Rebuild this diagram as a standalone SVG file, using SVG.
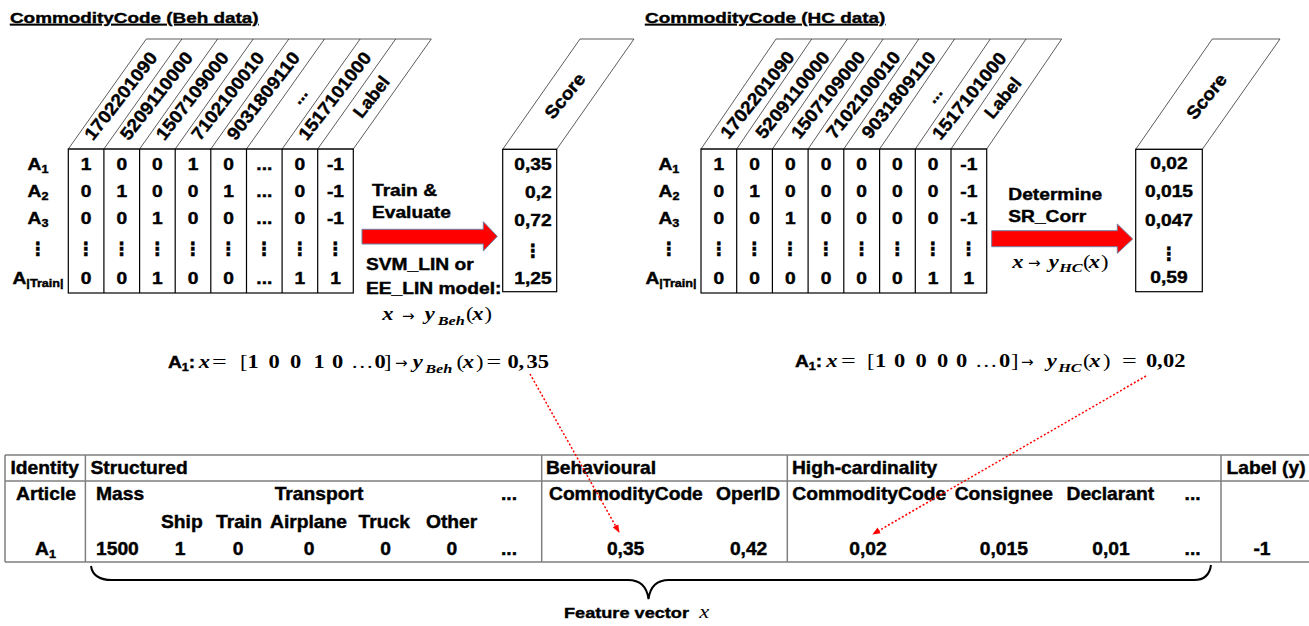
<svg xmlns="http://www.w3.org/2000/svg" width="1309" height="626" viewBox="0 0 1309 626">
<style>
.b{font-family:"Liberation Sans",Arial,sans-serif;font-weight:700;fill:#000;stroke:#000;stroke-width:0.4}
.k{font-size:16px}
.sl{transform-box:fill-box;transform-origin:0 50%;transform:scaleX(1.2)}
.sc{transform-box:fill-box;transform-origin:50% 50%;transform:scaleX(1.2)}
.sr{transform-box:fill-box;transform-origin:100% 50%;transform:scaleX(1.2)}
.c{text-anchor:middle}
.r{text-anchor:end}
.tt{font-size:15.5px;text-decoration:underline;transform-box:fill-box;transform-origin:0 50%;transform:scaleX(1.22)}
.hd{font-size:18px;text-anchor:middle;dominant-baseline:central}
.vd{font-family:"DejaVu Sans",sans-serif;font-weight:700;font-size:18px;text-anchor:middle;fill:#000;stroke:#000;stroke-width:0.4}
.bt{font-size:17.5px}
.bl{transform-box:fill-box;transform-origin:0 50%;transform:scaleX(1.1)}
.bc{transform-box:fill-box;transform-origin:50% 50%;transform:scaleX(1.1);text-anchor:middle}
.m{font-family:"Liberation Serif","Times New Roman",serif;fill:#000;transform-box:fill-box;transform-origin:0 50%;transform:scaleX(1.25)}
.mv{font-style:italic;font-weight:700;font-size:18px}
.mn{font-weight:700;font-size:18px}
.mr{font-size:18px}
.mu{font-style:italic;font-weight:700;font-size:13px}
.ma{font-family:"DejaVu Sans",sans-serif;font-size:15px;fill:#000}
.me{font-family:"Liberation Serif","Times New Roman",serif;font-size:18px;fill:#000;transform-box:fill-box;transform-origin:0 50%;transform:scaleX(1.45)}
.grid{fill:none;stroke:#000;stroke-width:1.2}
.hl{fill:none;stroke:#333;stroke-width:0.8}
.blk{fill:#ff0000;stroke:#6f7f9f;stroke-width:1}
.tab{fill:none;stroke:#7f7f7f;stroke-width:1.5}
.red{fill:none;stroke:#ff0000;stroke-width:1.5;stroke-dasharray:2 2}
</style>
<defs>
<marker id="rh" viewBox="0 0 10 10" refX="9" refY="5" markerWidth="8" markerHeight="8" markerUnits="userSpaceOnUse" orient="auto"><path d="M0,1 L10,5 L0,9 z" fill="#ff0000"/></marker>
</defs>

<g id="beh-matrix">
<text class="b tt" x="10" y="23">CommodityCode (Beh data)</text>
<polygon class="hl" points="68.3,149 353.3,149 431.3,39 146.3,39"/>
<path class="hl" d="M103.9,149L181.9,39M139.6,149L217.6,39M175.2,149L253.2,39M210.8,149L288.8,39M246.5,149L324.5,39M282.1,149L360.1,39M317.7,149L395.7,39"/>
<text class="b hd" transform="translate(121,96) rotate(-52)" textLength="106" lengthAdjust="spacingAndGlyphs">1702201090</text>
<text class="b hd" transform="translate(156.6,96) rotate(-52)" textLength="106" lengthAdjust="spacingAndGlyphs">5209110000</text>
<text class="b hd" transform="translate(192.3,96) rotate(-52)" textLength="106" lengthAdjust="spacingAndGlyphs">1507109000</text>
<text class="b hd" transform="translate(227.9,96) rotate(-52)" textLength="106" lengthAdjust="spacingAndGlyphs">7102100010</text>
<text class="b hd" transform="translate(263.5,96) rotate(-52)" textLength="106" lengthAdjust="spacingAndGlyphs">9031809110</text>
<text class="b hd" transform="translate(299.2,96) rotate(-52)">...</text>
<text class="b hd" transform="translate(334.8,96) rotate(-52)" textLength="106" lengthAdjust="spacingAndGlyphs">1517101000</text>
<text class="b hd" transform="translate(371.5,97) rotate(-52)" textLength="47" lengthAdjust="spacingAndGlyphs">Label</text>
<rect class="grid" x="68.3" y="149" width="285" height="144"/>
<path class="grid" d="M103.9,149V293M139.6,149V293M175.2,149V293M210.8,149V293M246.5,149V293M282.1,149V293M317.7,149V293"/>
<g class="b k">
<text class="sc c" x="38" y="170">A<tspan font-size="10.5" dy="3">1</tspan></text>
<text class="sc c" x="38" y="197">A<tspan font-size="10.5" dy="3">2</tspan></text>
<text class="sc c" x="38" y="224">A<tspan font-size="10.5" dy="3">3</tspan></text>
<text class="sc c" x="38" y="284">A<tspan font-size="10.5" dy="3">|Train|</tspan></text>
<text class="sc c" x="86.1" y="170">1</text><text class="sc c" x="121.8" y="170">0</text><text class="sc c" x="157.4" y="170">0</text><text class="sc c" x="193" y="170">1</text><text class="sc c" x="228.6" y="170">0</text><text class="sc c" x="264.3" y="170">...</text><text class="sc c" x="299.9" y="170">0</text><text class="sc c" x="335.5" y="170">-1</text>
<text class="sc c" x="86.1" y="197">0</text><text class="sc c" x="121.8" y="197">1</text><text class="sc c" x="157.4" y="197">0</text><text class="sc c" x="193" y="197">0</text><text class="sc c" x="228.6" y="197">1</text><text class="sc c" x="264.3" y="197">...</text><text class="sc c" x="299.9" y="197">0</text><text class="sc c" x="335.5" y="197">-1</text>
<text class="sc c" x="86.1" y="224">0</text><text class="sc c" x="121.8" y="224">0</text><text class="sc c" x="157.4" y="224">1</text><text class="sc c" x="193" y="224">0</text><text class="sc c" x="228.6" y="224">0</text><text class="sc c" x="264.3" y="224">...</text><text class="sc c" x="299.9" y="224">0</text><text class="sc c" x="335.5" y="224">-1</text>
<text class="sc c" x="86.1" y="284">0</text><text class="sc c" x="121.8" y="284">0</text><text class="sc c" x="157.4" y="284">1</text><text class="sc c" x="193" y="284">0</text><text class="sc c" x="228.6" y="284">0</text><text class="sc c" x="264.3" y="284">...</text><text class="sc c" x="299.9" y="284">1</text><text class="sc c" x="335.5" y="284">1</text>
</g>
<g class="vd">
<text x="38" y="255">⋮</text><text x="86.1" y="255">⋮</text><text x="121.8" y="255">⋮</text><text x="157.4" y="255">⋮</text><text x="193" y="255">⋮</text><text x="228.6" y="255">⋮</text><text x="264.3" y="255">⋮</text><text x="299.9" y="255">⋮</text><text x="335.5" y="255">⋮</text>
</g>
</g>

<g id="beh-score">
<polygon class="hl" points="502.7,149.3 556.7,149.3 634,39 580,39"/>
<rect class="grid" x="502.7" y="149.3" width="54" height="142.4"/>
<text class="b hd" font-size="18" transform="translate(565,96) rotate(-51)" textLength="53" lengthAdjust="spacingAndGlyphs">Score</text>
<g class="b k">
<text class="sr r" x="551.7" y="170">0,35</text>
<text class="sr r" x="551.7" y="198">0,2</text>
<text class="sr r" x="551.7" y="226.5">0,72</text>
<text class="sr r" x="551.7" y="284">1,25</text>
</g>
<text class="vd" x="533" y="257">⋮</text>
</g>

<g id="train-arrow">
<polygon class="blk" points="362,229.3 483.3,229.3 483.3,221.7 497.3,236.3 483.3,251 483.3,244 362,244"/>
<g class="b k">
<text class="sl" x="372" y="196">Train &amp;</text>
<text class="sl" x="372" y="218.5">Evaluate</text>
<text class="sl" x="366" y="270.5">SVM_LIN or</text>
<text class="sl" x="366" y="294">EE_LIN model:</text>
</g>
<text class="m mv" x="382" y="320.5">x</text>
<text class="ma" x="402" y="320.5">→</text>
<text class="m mv" x="424" y="320.5">y</text>
<text class="m mu" x="437.5" y="325">Beh</text>
<text class="m mr" x="466" y="320.5">(</text>
<text class="m mv" x="472" y="320.5">x</text>
<text class="m mr" x="484.5" y="320.5">)</text>
</g>

<g id="hc-matrix">
<text class="b tt" x="645" y="23">CommodityCode (HC data)</text>
<polygon class="hl" points="701,149 986.7,149 1061.7,39 776,39"/>
<path class="hl" d="M736.7,149L811.7,39M772.4,149L847.4,39M808.1,149L883.1,39M843.8,149L918.8,39M879.6,149L954.6,39M915.3,149L990.3,39M951,149L1026,39"/>
<text class="b hd" transform="translate(757.5,95) rotate(-51)" textLength="106" lengthAdjust="spacingAndGlyphs">1702201090</text>
<text class="b hd" transform="translate(792.8,95) rotate(-51)" textLength="106" lengthAdjust="spacingAndGlyphs">5209110000</text>
<text class="b hd" transform="translate(828.1,95) rotate(-51)" textLength="106" lengthAdjust="spacingAndGlyphs">1507109000</text>
<text class="b hd" transform="translate(863.4,95) rotate(-51)" textLength="106" lengthAdjust="spacingAndGlyphs">7102100010</text>
<text class="b hd" transform="translate(898.7,95) rotate(-51)" textLength="106" lengthAdjust="spacingAndGlyphs">9031809110</text>
<text class="b hd" transform="translate(934,95) rotate(-51)">...</text>
<text class="b hd" transform="translate(969.3,96) rotate(-51)" textLength="106" lengthAdjust="spacingAndGlyphs">1517101000</text>
<text class="b hd" transform="translate(1003,98) rotate(-51)" textLength="47" lengthAdjust="spacingAndGlyphs">Label</text>
<rect class="grid" x="701" y="149" width="285.7" height="144"/>
<path class="grid" d="M736.7,149V293M772.4,149V293M808.1,149V293M843.8,149V293M879.6,149V293M915.3,149V293M951,149V293"/>
<g class="b k">
<text class="sc c" x="669" y="170">A<tspan font-size="10.5" dy="3">1</tspan></text>
<text class="sc c" x="669" y="197">A<tspan font-size="10.5" dy="3">2</tspan></text>
<text class="sc c" x="669" y="224">A<tspan font-size="10.5" dy="3">3</tspan></text>
<text class="sc c" x="671" y="284">A<tspan font-size="10.5" dy="3">|Train|</tspan></text>
<text class="sc c" x="718.9" y="170">1</text><text class="sc c" x="754.6" y="170">0</text><text class="sc c" x="790.3" y="170">0</text><text class="sc c" x="826" y="170">0</text><text class="sc c" x="861.7" y="170">0</text><text class="sc c" x="897.4" y="170">0</text><text class="sc c" x="933.1" y="170">0</text><text class="sc c" x="968.8" y="170">-1</text>
<text class="sc c" x="718.9" y="197">0</text><text class="sc c" x="754.6" y="197">1</text><text class="sc c" x="790.3" y="197">0</text><text class="sc c" x="826" y="197">0</text><text class="sc c" x="861.7" y="197">0</text><text class="sc c" x="897.4" y="197">0</text><text class="sc c" x="933.1" y="197">0</text><text class="sc c" x="968.8" y="197">-1</text>
<text class="sc c" x="718.9" y="224">0</text><text class="sc c" x="754.6" y="224">0</text><text class="sc c" x="790.3" y="224">1</text><text class="sc c" x="826" y="224">0</text><text class="sc c" x="861.7" y="224">0</text><text class="sc c" x="897.4" y="224">0</text><text class="sc c" x="933.1" y="224">0</text><text class="sc c" x="968.8" y="224">-1</text>
<text class="sc c" x="718.9" y="284">0</text><text class="sc c" x="754.6" y="284">0</text><text class="sc c" x="790.3" y="284">0</text><text class="sc c" x="826" y="284">0</text><text class="sc c" x="861.7" y="284">0</text><text class="sc c" x="897.4" y="284">0</text><text class="sc c" x="933.1" y="284">1</text><text class="sc c" x="968.8" y="284">1</text>
</g>
<g class="vd">
<text x="669" y="255">⋮</text><text x="718.9" y="255">⋮</text><text x="754.6" y="255">⋮</text><text x="790.3" y="255">⋮</text><text x="826" y="255">⋮</text><text x="861.7" y="255">⋮</text><text x="897.4" y="255">⋮</text><text x="933.1" y="255">⋮</text><text x="968.8" y="255">⋮</text>
</g>
</g>

<g id="hc-score">
<polygon class="hl" points="1135.7,149.3 1202.3,149.3 1280,39 1212.3,39"/>
<rect class="grid" x="1135.7" y="149.3" width="66.6" height="142.4"/>
<text class="b hd" font-size="18" transform="translate(1206.7,96.5) rotate(-51)" textLength="53" lengthAdjust="spacingAndGlyphs">Score</text>
<g class="b k">
<text class="sc c" x="1169" y="169">0,02</text>
<text class="sc c" x="1169" y="197.3">0,015</text>
<text class="sc c" x="1169" y="225.7">0,047</text>
<text class="sc c" x="1169" y="283.3">0,59</text>
</g>
<text class="vd" x="1169" y="260">⋮</text>
</g>

<g id="sr-arrow">
<polygon class="blk" points="991.7,230.7 1117.3,230.7 1117.3,224 1132.7,239 1117.3,253.3 1117.3,246.7 991.7,246.7"/>
<g class="b k">
<text class="sl" x="1008.3" y="200">Determine</text>
<text class="sl" x="1008.3" y="222.3">SR_Corr</text>
</g>
<text class="m mv" x="1012" y="268">x</text>
<text class="ma" x="1028" y="268">→</text>
<text class="m mv" x="1048" y="268">y</text>
<text class="m mu" x="1059" y="272.5">HC</text>
<text class="m mr" x="1083" y="268">(</text>
<text class="m mv" x="1088.5" y="268">x</text>
<text class="m mr" x="1101" y="268">)</text>
</g>

<g id="formula-beh">
<text class="b sl" x="168" y="368" font-size="16">A<tspan font-size="10.5" dy="3">1</tspan><tspan dy="-3">:</tspan></text>
<text class="m mv" x="198.5" y="368">x</text>
<text class="me" x="212" y="368">=</text>
<text class="m mr" x="240" y="368">[</text>
<text class="m mn" x="247.5" y="368">1</text>
<text class="m mn" x="268.5" y="368">0</text>
<text class="m mn" x="290" y="368">0</text>
<text class="m mn" x="313.5" y="368">1</text>
<text class="m mn" x="332" y="368">0</text>
<text class="m mr" x="351" y="368" font-size="12">…</text>
<text class="m mn" x="374.5" y="368">0</text>
<text class="m mr" x="384" y="368">]</text>
<text class="ma" x="395" y="368">→</text>
<text class="m mv" x="412" y="368">y</text>
<text class="m mu" x="425" y="373.5">Beh</text>
<text class="m mr" x="456.5" y="368">(</text>
<text class="m mv" x="462.5" y="368">x</text>
<text class="m mr" x="476" y="368">)</text>
<text class="me" x="486.5" y="368">=</text>
<text class="m mn" x="507.5" y="368">0</text>
<text class="m mn" x="518.5" y="368">,</text>
<text class="m mn" x="526.5" y="368">35</text>
</g>

<g id="formula-hc">
<text class="b sl" x="795" y="367" font-size="16">A<tspan font-size="10.5" dy="3">1</tspan><tspan dy="-3">:</tspan></text>
<text class="m mv" x="826" y="367">x</text>
<text class="me" x="841" y="367">=</text>
<text class="m mr" x="867" y="367">[</text>
<text class="m mn" x="875" y="367">1</text>
<text class="m mn" x="894" y="367">0</text>
<text class="m mn" x="915.5" y="367">0</text>
<text class="m mn" x="937" y="367">0</text>
<text class="m mn" x="956" y="367">0</text>
<text class="m mr" x="975" y="367" font-size="12">…</text>
<text class="m mn" x="999" y="367">0</text>
<text class="m mr" x="1011" y="367">]</text>
<text class="ma" x="1021" y="367">→</text>
<text class="m mv" x="1046" y="367">y</text>
<text class="m mu" x="1058" y="372.5">HC</text>
<text class="m mr" x="1083" y="367">(</text>
<text class="m mv" x="1089" y="367">x</text>
<text class="m mr" x="1103" y="367">)</text>
<text class="me" x="1122" y="367">=</text>
<text class="m mn" x="1146" y="367">0</text>
<text class="m mn" x="1157" y="367">,</text>
<text class="m mn" x="1163" y="367">02</text>
</g>

<g id="feature-table">
<path class="tab" d="M5,455H1309M5,481H1309M5,562H1309M5,455V562M85.4,455V562M541.7,455V562M787.3,455V562M1221,455V562"/>
<g class="b bt">
<text class="bl" x="10.5" y="474">Identity</text>
<text class="bl" x="90.5" y="474">Structured</text>
<text class="bl" x="546" y="474">Behavioural</text>
<text class="bl" x="792" y="474">High-cardinality</text>
<text class="bl" x="1226.5" y="474">Label (y)</text>
<text class="bc" x="46" y="500">Article</text>
<text class="bl" x="96" y="500">Mass</text>
<text class="bc" x="319" y="500">Transport</text>
<text class="bc" x="509" y="500">...</text>
<text class="bl" x="549" y="500">CommodityCode</text>
<text class="bl" x="716" y="500">OperID</text>
<text class="bl" x="792.3" y="500">CommodityCode</text>
<text class="bl" x="954.7" y="500">Consignee</text>
<text class="bl" x="1066.5" y="500">Declarant</text>
<text class="bc" x="1192.6" y="500">...</text>
<text class="bl" x="161" y="527.7">Ship</text>
<text class="bl" x="216" y="527.7">Train</text>
<text class="bl" x="270" y="527.7">Airplane</text>
<text class="bl" x="358.6" y="527.7">Truck</text>
<text class="bl" x="426" y="527.7">Other</text>
<text class="bc" x="45.5" y="555">A<tspan font-size="11.5" dy="3">1</tspan></text>
<text class="bl" x="96" y="555">1500</text>
<text class="bc" x="180" y="555">1</text>
<text class="bc" x="238" y="555">0</text>
<text class="bc" x="309" y="555">0</text>
<text class="bc" x="385.5" y="555">0</text>
<text class="bc" x="451.8" y="555">0</text>
<text class="bc" x="509" y="555">...</text>
<text class="bc" x="625.6" y="555">0,35</text>
<text class="bc" x="748.6" y="555">0,42</text>
<text class="bc" x="868" y="555">0,02</text>
<text class="bc" x="1003.8" y="555">0,015</text>
<text class="bc" x="1111" y="555">0,01</text>
<text class="bc" x="1192.6" y="555">...</text>
<text class="bc" x="1262" y="555">-1</text>
</g>
<path d="M91,566 Q93,580 112,580 L628,580 Q646,580 648.5,599 Q651,580 669,580 L1194,580 Q1209,580 1211,565" fill="none" stroke="#000" stroke-width="2"/>
<text class="b" x="564" y="618" font-size="15.5" textLength="125" lengthAdjust="spacingAndGlyphs">Feature vector</text>
<text class="m" x="699" y="618" font-style="italic" font-size="18">x</text>
</g>

<g id="connectors">
<line class="red" x1="530" y1="374" x2="619" y2="532" marker-end="url(#rh)"/>
<line class="red" x1="1146" y1="376" x2="873" y2="534" marker-end="url(#rh)"/>
</g>
</svg>
